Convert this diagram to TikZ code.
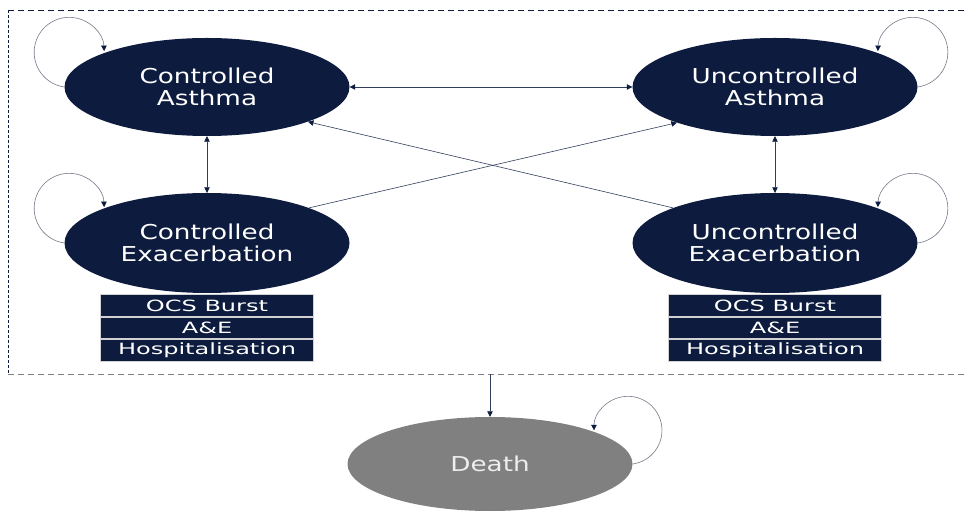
\documentclass[tikz,border=0pt]{standalone}
\usepackage{fontspec}
\newfontfamily\statefont[FakeStretch=1.28]{DejaVu Sans}
\newfontfamily\tabfont[FakeStretch=1.55]{DejaVu Sans}
\usetikzlibrary{arrows.meta,positioning,shapes.geometric}
\definecolor{mNavy}{RGB}{13,28,62}
\definecolor{mLoop}{RGB}{118,122,138}
\definecolor{mDeath}{RGB}{128,128,128}

\begin{document}
\begin{tikzpicture}[x=1pt,y=1pt,
    state/.style={ellipse, fill=mNavy, text=white, minimum width=285pt, minimum height=98pt,
      inner sep=0pt, align=center, font=\statefont\fontsize{20.5}{22}\selectfont},
    tabrow/.style={rectangle, fill=mNavy, draw=gray!35, line width=0.8pt, text=white,
      minimum width=213pt, minimum height=21.7pt, inner sep=0pt,
      font=\tabfont\fontsize{15.5}{16}\selectfont},
    link/.style={draw=mNavy!85, line width=0.6pt, -{Triangle[length=5.5pt,width=5.5pt,color=mNavy]}},
    twoway/.style={link, {Triangle[length=5.5pt,width=5.5pt,color=mNavy]}-{Triangle[length=5.5pt,width=5.5pt,color=mNavy]}},
    selfloop/.style={draw=mLoop, line width=0.6pt, -{Triangle[length=5.5pt,width=5.5pt,color=mNavy]}}]
    \useasboundingbox (0,0) rectangle (965,511);
    % Dashed frame (open on the right)
    \coordinate (frameTL) at (8,500.5);
    \coordinate (frameBL) at (8,136.5);
    \coordinate (frameTR) at (975,500.5);
    \coordinate (frameBR) at (975,136.5);
    \coordinate (boxbot) at (490,136.5);
    \draw[mNavy, dash pattern=on 6pt off 4pt, line width=0.9pt] (frameTL) -- (frameTR);
    \draw[mNavy, dash pattern=on 3pt off 2pt, line width=1pt] (frameTL) -- (frameBL);
    \draw[gray, dash pattern=on 6pt off 4pt, line width=1pt] (frameBL) -- (frameBR);
    % States
    \node[state] (ca) at (207,424) {Controlled\\Asthma};
    \node[state] (ua) at (775,424) {Uncontrolled\\Asthma};
    \node[state, minimum height=100pt] (ce) at (207,268) {Controlled\\Exacerbation};
    \node[state, minimum height=100pt] (ue) at (775,268) {Uncontrolled\\Exacerbation};
    \node[state, fill=mDeath, text=white!93!black, minimum height=94pt] (death) at (490,47) {Death};
    % Exacerbation outcomes
    \node[tabrow, below=1pt of ce] (ceocs) {OCS Burst};
    \node[tabrow, below=0pt of ceocs] (ceae) {A\&E};
    \node[tabrow, below=0pt of ceae] (cehosp) {Hospitalisation};
    \node[tabrow, below=1pt of ue] (ueocs) {OCS Burst};
    \node[tabrow, below=0pt of ueocs] (ueae) {A\&E};
    \node[tabrow, below=0pt of ueae] (uehosp) {Hospitalisation};
    % Transitions
    \draw[twoway] (ca.east) -- (ua.west);
    \draw[twoway] (ca.south) -- (ce.north);
    \draw[twoway] (ua.south) -- (ue.north);
    \draw[link] (ce.19) -- (ua.200);
    \draw[link] (ue.161) -- (ca.341);
    \draw[link] (boxbot) -- (death.north);
    % Self loops
    \draw[selfloop] (ca.west) arc[start angle=262, delta angle=-260, radius=35];
    \draw[selfloop] (ce.west) arc[start angle=262, delta angle=-260, radius=35];
    \draw[selfloop] (ua.east) arc[start angle=278, delta angle=260, radius=35];
    \draw[selfloop] (ue.east) arc[start angle=278, delta angle=260, radius=35];
    \draw[selfloop] (death.east) arc[start angle=278, delta angle=262, radius=34];
\end{tikzpicture}
\end{document}
